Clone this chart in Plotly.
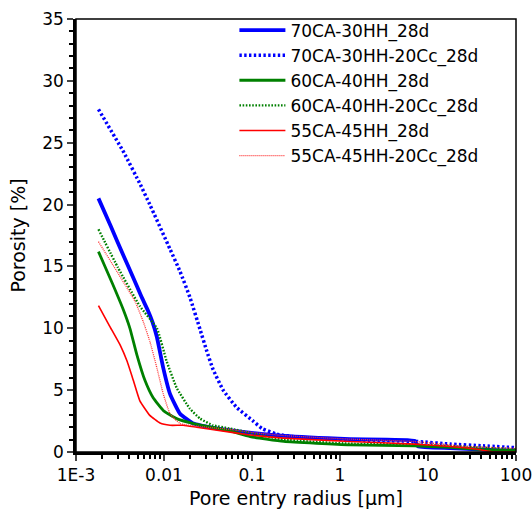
import plotly.graph_objects as go

# Pore entry radius [µm] and porosity [%] per mix
r_70 = [0.0018, 0.0025, 0.0035, 0.0045, 0.0055, 0.0066, 0.0074, 0.0083, 0.0098, 0.0117, 0.0152,
        0.0216, 0.0257, 0.056, 0.23, 1.3, 7.1, 7.7, 18, 42, 100]
p_70 = [20.5, 18.2, 15.8, 14.05, 12.6, 11.4, 10.5, 9.3, 6.8, 4.7, 3.1,
        2.3, 2.16, 1.76, 1.3, 1.04, 0.9, 0.45, 0.32, 0.19, 0.1]

r_70c = [0.0018, 0.0035, 0.0054, 0.0069, 0.0117, 0.0152, 0.0197, 0.0257, 0.0305, 0.036, 0.047,
         0.067, 0.103, 0.13, 0.19, 0.35, 1.3, 7.4, 18, 42, 100]
p_70c = [27.7, 24.2, 21.6, 20.0, 16.4, 14.6, 12.5, 9.9, 8.2, 6.7, 5.0,
         3.6, 2.5, 1.9, 1.45, 1.17, 0.98, 0.85, 0.64, 0.5, 0.35]

r_60 = [0.0018, 0.0026, 0.00345, 0.0041, 0.0049, 0.0061, 0.0075, 0.0098, 0.0139, 0.0216, 0.056,
        0.095, 0.23, 1.3, 7, 18, 42, 100]
p_60 = [16.2, 13.6, 11.5, 10.0, 7.9, 5.75, 4.4, 3.36, 2.7, 2.3, 1.7,
        1.25, 0.85, 0.58, 0.5, 0.37, 0.2, 0.1]

r_60c = [0.0018, 0.003, 0.0053, 0.0083, 0.0107, 0.0139, 0.0197, 0.0257, 0.036, 0.056, 0.095,
         0.23, 1.3, 7, 42, 100]
p_60c = [18.0, 14.9, 11.8, 10.0, 7.35, 5.2, 3.5, 2.7, 2.16, 1.9, 1.55,
         1.0, 0.67, 0.6, 0.35, 0.2]

r_55 = [0.0018, 0.0024, 0.0032, 0.0038, 0.0045, 0.0053, 0.0069, 0.009, 0.0117, 0.0166, 0.0235,
        0.04, 0.095, 0.23, 1.3, 7, 18, 35, 50, 55, 100]
p_55 = [11.83, 10.2, 8.6, 7.35, 5.75, 4.16, 2.96, 2.34, 2.16, 2.16, 2.0,
        1.76, 1.38, 1.12, 0.85, 0.64, 0.45, 0.24, 0.05, 0.0, 0.0]

r_55c = [0.0018, 0.0047, 0.0058, 0.0069, 0.0083, 0.0098, 0.0117, 0.0152, 0.061, 0.095, 0.23,
         1.3, 7, 27, 100]
p_55c = [17.0, 12.15, 10.55, 8.95, 6.8, 4.7, 3.1, 2.3, 1.8, 1.6, 1.33,
         1.04, 0.85, 0.45, 0.3]

names = ["70CA-30HH_28d", "70CA-30HH-20Cc_28d", "60CA-40HH_28d",
         "60CA-40HH-20Cc_28d", "55CA-45HH_28d", "55CA-45HH-20Cc_28d"]

x_tickvals = [0.001, 0.01, 0.1, 1, 10, 100]
x_ticktext = ["1E-3", "0.01", "0.1", "1", "10", "100"]
y_tickvals = [0, 5, 10, 15, 20, 25, 30, 35]

series = [
    (r_70, p_70, "#0000ff", 3.8, "solid"),
    (r_70c, p_70c, "#0000ff", 3.5, "2.4px,2.4px"),
    (r_60, p_60, "#008000", 2.8, "solid"),
    (r_60c, p_60c, "#008000", 2.4, "1.6px,1.6px"),
    (r_55, p_55, "#ff0000", 1.6, "solid"),
    (r_55c, p_55c, "#ff3333", 1.3, "1px,1px"),
]

fig = go.Figure()
for (xs, ys, c, w, d), n in zip(series, names):
    fig.add_trace(go.Scatter(x=xs, y=ys, mode="lines", name=n,
                             line=dict(color=c, width=w, dash=d, shape="spline", smoothing=0.4)))

minor_x = [m * 10 ** e for e in range(-3, 2) for m in range(2, 10)]

fig.update_layout(
    width=532, height=520,
    margin=dict(l=76, r=16, t=14, b=68),
    paper_bgcolor="white", plot_bgcolor="white",
    font=dict(family="DejaVu Sans", size=17, color="black"),
    showlegend=True,
    legend=dict(x=0.36, y=1.015, xanchor="left", yanchor="top", itemwidth=46,
                bgcolor="rgba(0,0,0,0)", font=dict(size=17), tracegroupgap=0),
    xaxis=dict(type="log", range=[-3, 2], tickmode="array", tickvals=x_tickvals,
               ticktext=x_ticktext, ticks="outside", ticklen=6, tickwidth=2,
               ticklabeloverflow="allow",
               showline=True, linewidth=2.5, linecolor="black", showgrid=False,
               zeroline=False, automargin=False,
               minor=dict(tickvals=minor_x, ticks="outside", ticklen=4, tickwidth=1.5,
                          tickcolor="black", showgrid=False),
               title=dict(text="Pore entry radius [μm]", standoff=8, font=dict(size=19))),
    yaxis=dict(range=[0, 35], tickmode="array", tickvals=y_tickvals,
               ticks="outside", ticklen=6, tickwidth=2,
               ticklabeloverflow="allow",
               showline=True, linewidth=2.5, linecolor="black", showgrid=False,
               zeroline=False, automargin=False,
               minor=dict(dtick=1, ticks="outside", ticklen=4, tickwidth=1.5,
                          tickcolor="black", showgrid=False),
               title=dict(text="Porosity [%]", standoff=12, font=dict(size=19))),
)
fig.add_shape(type="rect", xref="paper", yref="paper", x0=0, y0=0, x1=1, y1=1,
              line=dict(color="black", width=1.5), layer="above")

fig.write_html("out.html")
